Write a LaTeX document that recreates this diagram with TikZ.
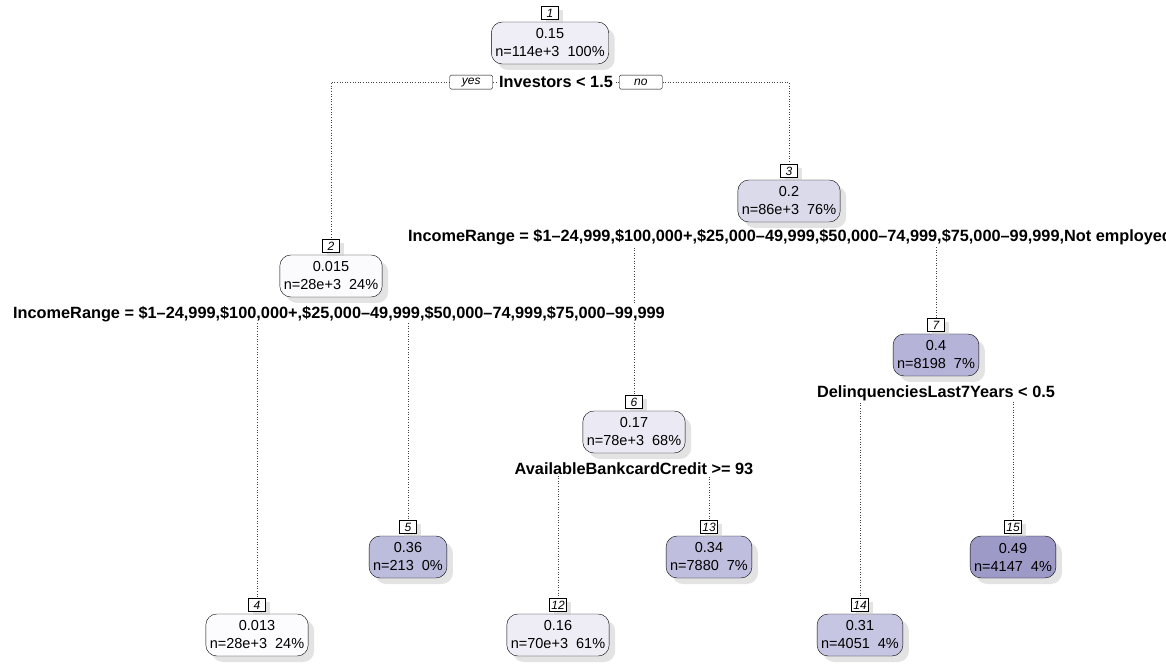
\documentclass[tikz,border=0pt]{standalone}
\usepackage{fontspec}
\setmainfont{Liberation Sans}
\usetikzlibrary{positioning}
\usetikzlibrary{shadows}
\usetikzlibrary{backgrounds}

% fill colours, light to dark
\definecolor{p013}{RGB}{252,251,253}
\definecolor{p015}{RGB}{251,250,253}
\definecolor{p15}{RGB}{239,237,245}
\definecolor{p16}{RGB}{238,236,244}
\definecolor{p17}{RGB}{235,233,243}
\definecolor{p20}{RGB}{219,218,235}
\definecolor{p31}{RGB}{198,198,226}
\definecolor{p34}{RGB}{191,190,222}
\definecolor{p36}{RGB}{188,188,220}
\definecolor{p40}{RGB}{181,179,215}
\definecolor{p49}{RGB}{158,154,200}

\tikzset{
  tnode/.style={draw, rounded corners=11pt, align=center, inner xsep=4pt,
    minimum height=42pt, font=\fontsize{14.5}{18}\selectfont,
    drop shadow={shadow xshift=6pt, shadow yshift=-6pt, fill=black!22}},
  numbox/.style={draw, fill=white, inner sep=1pt, minimum width=17pt,
    minimum height=13pt, font=\itshape\fontsize{12}{12}\selectfont,
    drop shadow={shadow xshift=4pt, shadow yshift=-3pt, fill=black!22}},
  split/.style={fill=white, inner sep=1pt, font=\bfseries\fontsize{16.3}{16.3}\selectfont},
  yesno/.style={draw, fill=white, rounded corners=1.5pt, inner sep=1pt,
    minimum width=43pt, minimum height=14pt, font=\itshape\fontsize{12}{12}\selectfont},
  branch/.style={dotted, line width=0.6pt, black!75}
}

\begin{document}
\begin{tikzpicture}[x=1pt,y=1pt]

    \useasboundingbox (0,0) rectangle (1166,664);

    % tree nodes
    \node[tnode, fill=p15] (t1) at (550,621) {0.15\\n=114e+3\ \ 100\%};
    \node[tnode, fill=p015] (t2) at (331,388) {0.015\\n=28e+3\ \ 24\%};
    \node[tnode, fill=p20] (t3) at (789,463) {0.2\\n=86e+3\ \ 76\%};
    \node[tnode, fill=p013] (t4) at (257,29) {0.013\\n=28e+3\ \ 24\%};
    \node[tnode, fill=p36] (t5) at (408,107) {0.36\\n=213\ \ 0\%};
    \node[tnode, fill=p17] (t6) at (634,232) {0.17\\n=78e+3\ \ 68\%};
    \node[tnode, fill=p40] (t7) at (936,309) {0.4\\n=8198\ \ 7\%};
    \node[tnode, fill=p16] (t12) at (558,29) {0.16\\n=70e+3\ \ 61\%};
    \node[tnode, fill=p34] (t13) at (709,107) {0.34\\n=7880\ \ 7\%};
    \node[tnode, fill=p31] (t14) at (860,29) {0.31\\n=4051\ \ 4\%};
    \node[tnode, fill=p49] (t15) at (1013,107) {0.49\\n=4147\ \ 4\%};

    % node numbers
    \foreach \k in {1,2,3,4,5,6,7,12,13,14,15}
        \node[numbox, above=2pt of t\k] (n\k) {\k};

    % split labels
    \node[split, below=11pt of t1, xshift=6pt] (s1) {Investors < 1.5};
    \node[yesno, left=5pt of s1] (yes) {yes};
    \node[yesno, right=5pt of s1] (no) {no};
    \node[split, below=8pt of t2, xshift=8pt] (s2) {IncomeRange = \$1–24,999,\$100,000+,\$25,000–49,999,\$50,000–74,999,\$75,000–99,999};
    \node[split, below=6pt of t3, xshift=1pt] (s3) {IncomeRange = \$1–24,999,\$100,000+,\$25,000–49,999,\$50,000–74,999,\$75,000–99,999,Not employed};
    \node[split, below=8pt of t6] (s6) {AvailableBankcardCredit >= 93};
    \node[split, below=8pt of t7] (s7) {DelinquenciesLast7Years < 0.5};

    % branches
    \begin{scope}[on background layer]
        \draw[branch] (s1.center) -| (n2.north);
        \draw[branch] (s1.center) -| (n3.north);
        \draw[branch] (s2.center) -| (n4.north);
        \draw[branch] (s2.center) -| (n5.north);
        \draw[branch] (s3.center) -| (n6.north);
        \draw[branch] (s3.center) -| (n7.north);
        \draw[branch] (s6.center) -| (n12.north);
        \draw[branch] (s6.center) -| (n13.north);
        \draw[branch] (s7.center) -| (n14.north);
        \draw[branch] (s7.center) -| (n15.north);
    \end{scope}

\end{tikzpicture}
\end{document}
